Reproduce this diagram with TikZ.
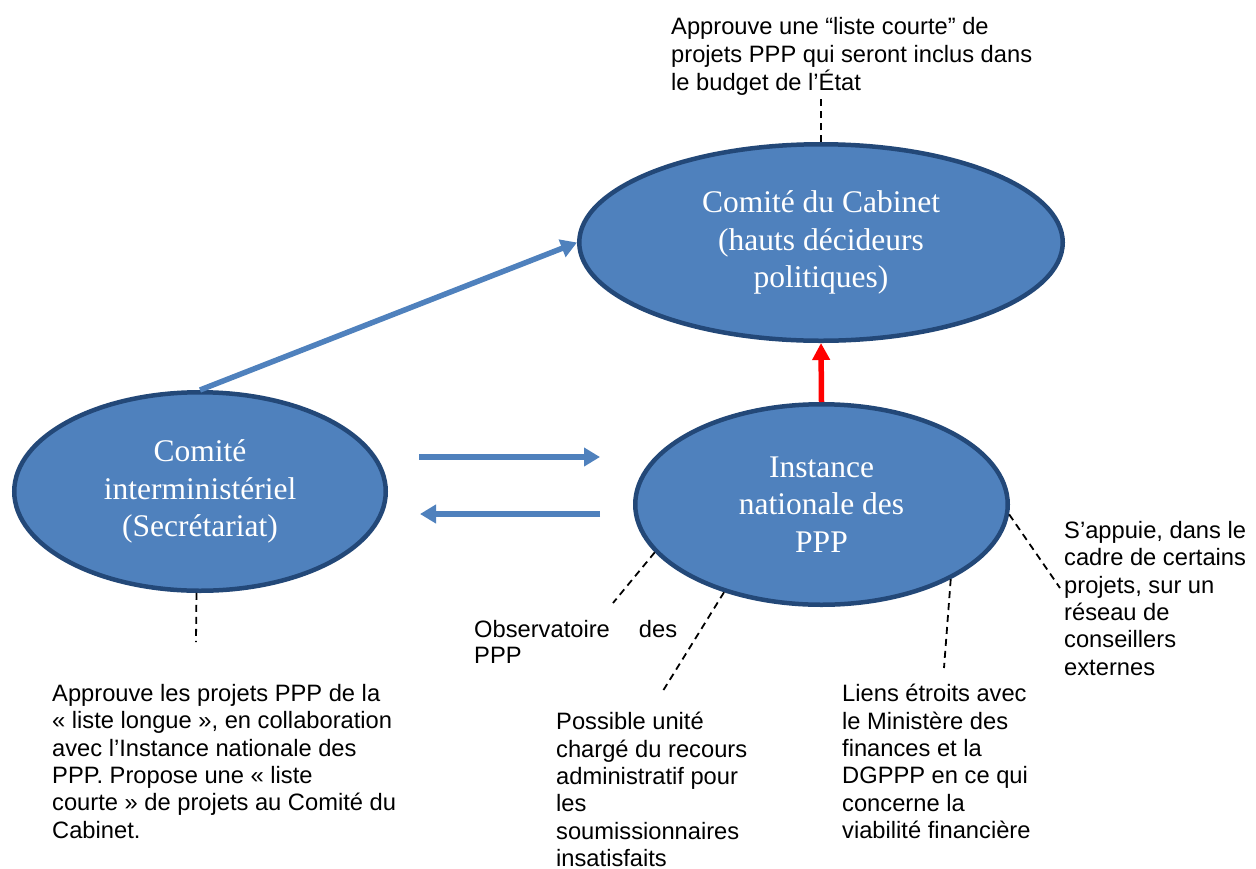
\documentclass[tikz,border=0pt]{standalone}
\usepackage{fontspec}
\setmainfont{Liberation Sans}
\newfontfamily\serifface{Liberation Serif}
\usetikzlibrary{shapes.geometric,arrows.meta}
\definecolor{ovalfill}{HTML}{4F81BD}
\definecolor{ovalline}{HTML}{234878}
\definecolor{flowblue}{HTML}{4F81BD}

\begin{document}
\begin{tikzpicture}[x=1pt,y=-1pt,
  oval/.style={ellipse, draw=ovalline, line width=4.5pt, fill=ovalfill,
    inner sep=0pt, text=white, align=center,
    font=\serifface\fontsize{31.5}{37.5}\selectfont},
  note/.style={anchor=north west, inner sep=0pt, align=left,
    font=\fontsize{23.7}{27.4}\selectfont},
  leader/.style={draw=black, line width=1.8pt, dash pattern=on 7pt off 5pt},
  flow/.style={draw=flowblue, line width=5.5pt,
    -{Triangle[width=18pt,length=16pt]}},
  escal/.style={draw=red, line width=5.5pt,
    -{Triangle[width=17pt,length=17pt]}}]

\useasboundingbox (0,0) rectangle (1256,868);

% the three bodies
\node[oval, minimum width=483.5, minimum height=196.5] (cab) at (821,242.5)
  {Comité du Cabinet\\(hauts décideurs\\politiques)};
\node[oval, minimum width=371.5, minimum height=198.5] (left) at (200,491.5)
  {Comité\\interministériel\\(Secrétariat)};
\node[oval, minimum width=372.5, minimum height=200.5] (inst) at (821.5,504.5)
  {Instance\\nationale des\\PPP};

% annotations
\node[note, font=\fontsize{23.7}{28}\selectfont] (topnote) at (671,17)
  {Approuve une “liste courte” de\\projets PPP qui seront inclus dans\\le budget de l’État};
\node[note] (leftnote) at (52,684)
  {Approuve les projets PPP de la\\« liste longue », en collaboration\\avec l’Instance nationale des\\PPP. Propose une « liste\\courte » de projets au Comité du\\Cabinet.};
\node[note, font=\fontsize{23.7}{26}\selectfont] (obsnote) at (474,620)
  {\makebox[203pt][l]{Observatoire\hfill des}\\PPP};
\node[note] (recnote) at (556,712)
  {Possible unité\\chargé du recours\\administratif pour\\les\\soumissionnaires\\insatisfaits};
\node[note] (finnote) at (842,684)
  {Liens étroits avec\\le Ministère des\\finances et la\\DGPPP en ce qui\\concerne la\\viabilité financière};
\node[note] (advnote) at (1064,521)
  {S’appuie, dans le\\cadre de certains\\projets, sur un\\réseau de\\conseillers\\externes};

% free ends of the dashed leaders
\coordinate (c-left) at (196,642);
\coordinate (c-obs) at (613,603);
\coordinate (c-rec) at (661,694);
\coordinate (c-fin) at (944,668);
\coordinate (c-adv) at (1060,588);

\draw[leader] (cab.north) -- (cab.north |- topnote.south);
\draw[leader] (left.268) -- (c-left);
\draw[leader] (inst.196) -- (c-obs);
\draw[leader] (inst.222) -- (c-rec);
\draw[leader] (inst.330) -- (c-fin);
\draw[leader] (inst.357) -- (c-adv);

% exchange arrows between the committee and the national body
\coordinate (h1s) at (419,457);
\coordinate (h1e) at (600,457);
\coordinate (h2s) at (600,514);
\coordinate (h2e) at (420,514);

\draw[flow] (left.north) -- (cab.west);
\draw[flow] (h1s) -- (h1e);
\draw[flow] (h2s) -- (h2e);
\draw[escal] (inst.north) -- (cab.south);
\end{tikzpicture}
\end{document}
